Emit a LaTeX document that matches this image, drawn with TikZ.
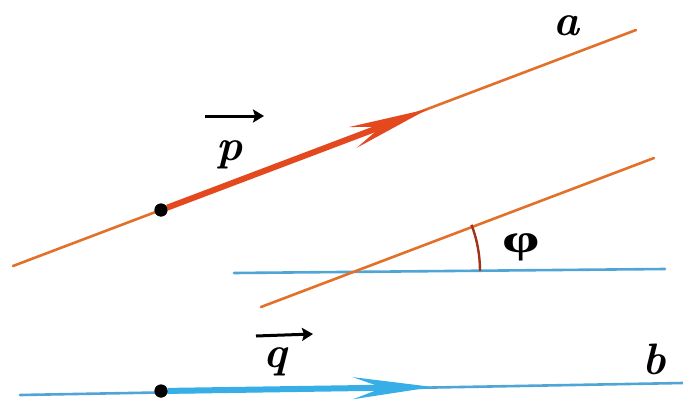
\documentclass[tikz,border=0pt]{standalone}
\usepackage{fontspec}
\usetikzlibrary{arrows.meta}
\newfontfamily\greekfont{Liberation Serif}
\definecolor{orangeline}{RGB}{226,112,40}
\definecolor{redvec}{RGB}{228,72,30}
\definecolor{blueline}{RGB}{80,165,215}
\definecolor{bluevec}{RGB}{55,175,230}
\tikzset{
  thinorange/.style={draw=orangeline,line width=2.6pt,line cap=round},
  thinblue/.style={draw=blueline,line width=2.6pt,line cap=round},
  vecred/.style={draw=redvec,line width=6pt,-{Stealth[length=80pt,width=22pt,inset=30pt]}},
  vecblue/.style={draw=bluevec,line width=6pt,-{Stealth[length=80pt,width=22pt,inset=30pt]}},
  dotpt/.style={circle,fill=black,inner sep=0pt,minimum size=13pt},
  lbl/.style={inner sep=0pt,font=\fontsize{44}{46}\selectfont\bfseries\itshape},
  overarrow/.style={line width=3pt,-{Stealth[length=11pt,width=13pt,inset=2pt]}},
}
\begin{document}
\begin{tikzpicture}[x=1pt,y=-1pt]
\useasboundingbox (0,0) rectangle (683,404);
% line a
\coordinate (a0) at (13,266);
\coordinate (a1) at (636,30);
\draw[thinorange] (a0) -- (a1);
\node[dotpt] (P) at (161,210) {};
\coordinate (ptip) at (428,109);
\draw[vecred] (P) -- (ptip);
\node[dotpt] at (161,210) {};
% second orange line and horizontal blue
\coordinate (c0) at (261,307);
\coordinate (c1) at (654,158);
\coordinate (h0) at (234,273);
\coordinate (h1) at (665,269);
\draw[thinblue] (h0) -- (h1);
\draw[thinorange] (c0) -- (c1);
\draw[draw=redvec!70!black,line width=2.4pt] (480,271) arc[start angle=0,end angle=-20.8,radius=130];
% line b
\coordinate (b0) at (20,395);
\coordinate (b1) at (683,383);
\draw[thinblue] (b0) -- (b1);
\node[dotpt] (Q) at (161,391) {};
\coordinate (qtip) at (433,387);
\draw[vecblue] (Q) -- (qtip);
\node[dotpt] at (161,391) {};
% labels
\node[lbl] (la) at (566,26) {a};
\node[lbl] (lb) at (654,359) {b};
\node[lbl] (lp) at (229,155) {p};
\node[lbl] (lq) at (275,362) {q};
\coordinate (pa0) at (205,116);
\coordinate (pa1) at (264,116);
\draw[overarrow] (pa0) -- (pa1);
\coordinate (qa0) at (256,336);
\coordinate (qa1) at (313,334);
\draw[overarrow] (qa0) -- (qa1);
\node[inner sep=0pt,xscale=1.5,font=\fontsize{40}{42}\greekfont\bfseries] (lphi) at (521,247) {φ};
\end{tikzpicture}
\end{document}
